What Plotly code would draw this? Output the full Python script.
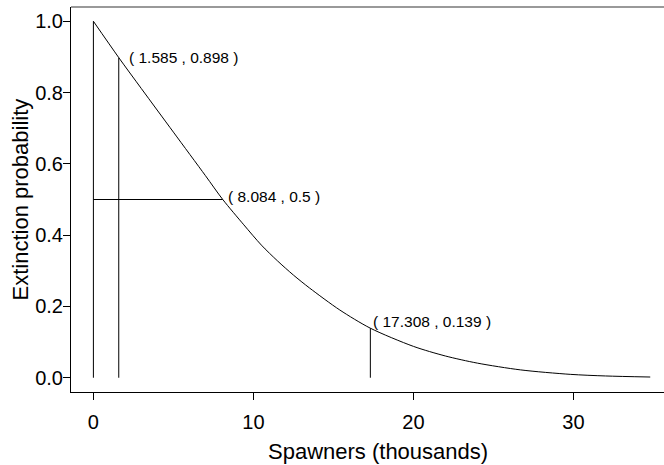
import plotly.graph_objects as go

# Curve
curve_x = [0, 1.585, 3, 5, 7, 8.084, 9.4, 10.5, 11.5, 12.5, 13.5, 15.4, 17.308, 20, 22, 24, 26.7, 29.8, 32, 34.8]
curve_y = [1.0, 0.898, 0.811, 0.689, 0.567, 0.5, 0.429, 0.372, 0.328, 0.288, 0.252, 0.19, 0.139, 0.088, 0.061, 0.041, 0.022, 0.0095, 0.005, 0.002]

# Highlighted points
pt_x = [1.585, 8.084, 17.308]
pt_y = [0.898, 0.5, 0.139]
pt_labels = ["( 1.585 , 0.898 )", "( 8.084 , 0.5 )", "( 17.308 , 0.139 )"]

x_ticks = [0, 10, 20, 30]
y_ticks = [0.0, 0.2, 0.4, 0.6, 0.8, 1.0]

FONT = "Liberation Sans, Arial, Helvetica, sans-serif"

fig = go.Figure()

line_style = dict(color="black", width=1)

# Vertical line at x=0 (curve start)
fig.add_trace(go.Scatter(x=[curve_x[0], curve_x[0]], y=[0, curve_y[0]], mode="lines",
                         line=line_style, hoverinfo="skip", showlegend=False))
# Vertical drop lines from first and third points
for i in (0, 2):
    fig.add_trace(go.Scatter(x=[pt_x[i], pt_x[i]], y=[0, pt_y[i]], mode="lines",
                             line=line_style, hoverinfo="skip", showlegend=False))
# Horizontal line at the median point
fig.add_trace(go.Scatter(x=[0, pt_x[1]], y=[pt_y[1], pt_y[1]], mode="lines",
                         line=line_style, hoverinfo="skip", showlegend=False))

# Main curve
fig.add_trace(go.Scatter(x=curve_x, y=curve_y, mode="lines",
                         line=dict(color="black", width=1, shape="spline", smoothing=0.8),
                         showlegend=False))

shifts = [(8, 0), (3, 3), (1, 7)]
for (x, y, t), (xs, ys) in zip(zip(pt_x, pt_y, pt_labels), shifts):
    fig.add_annotation(x=x, y=y, text=t, showarrow=False, xanchor="left", yanchor="middle",
                       xshift=xs, yshift=ys, font=dict(family=FONT, size=15.5, color="black"))

# Axis titles
fig.add_annotation(text="Spawners (thousands)", xref="paper", yref="paper",
                   x=0.5177, y=0, yshift=-59, xanchor="center", yanchor="middle",
                   showarrow=False, font=dict(family=FONT, size=22, color="black"))
fig.add_annotation(text="Extinction probability", xref="paper", yref="paper",
                   x=0, y=0.5, xshift=-51, textangle=-90, xanchor="center", yanchor="middle",
                   showarrow=False, font=dict(family=FONT, size=22, color="black"))

# Top box edge (gray)
fig.add_shape(type="line", xref="paper", yref="paper", x0=0, x1=1, y0=1, y1=1,
              line=dict(color="#777777", width=1.5))

fig.update_xaxes(range=[-1.4, 35.66], tickvals=x_ticks, ticktext=[str(v) for v in x_ticks],
                 showline=True, linecolor="black", linewidth=1, ticks="outside", ticklen=7,
                 tickcolor="black", tickwidth=1, showgrid=False, zeroline=False,
                 ticklabelstandoff=5,
                 tickfont=dict(family=FONT, size=20, color="black"))
fig.update_yaxes(range=[-0.04, 1.04], tickvals=y_ticks, ticktext=[f"{v:.1f}" for v in y_ticks],
                 showline=True, linecolor="black", linewidth=1, ticks="outside", ticklen=7,
                 tickcolor="black", tickwidth=1, showgrid=False, zeroline=False,
                 ticklabelstandoff=-4,
                 tickfont=dict(family=FONT, size=20, color="black"))

fig.update_layout(width=664, height=465, margin=dict(l=71, r=0, t=7, b=73),
                  plot_bgcolor="white", paper_bgcolor="white", showlegend=False)

fig.write_html("out.html")
